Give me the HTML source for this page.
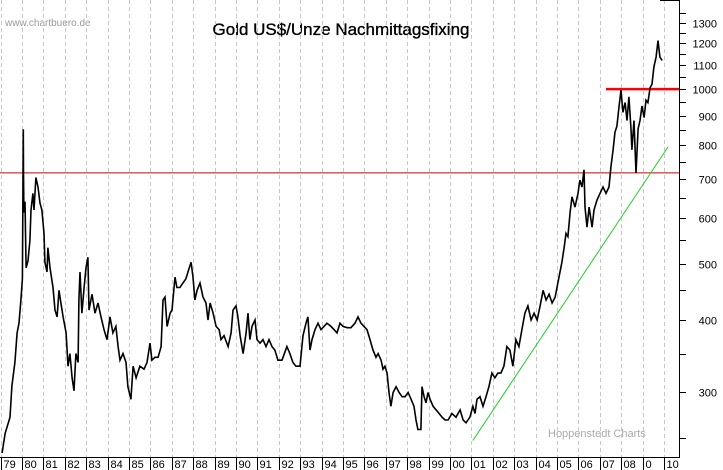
<!DOCTYPE html>
<html><head><meta charset="utf-8"><style>
html,body{margin:0;padding:0;background:#fff;}
svg{display:block;font-family:"Liberation Sans",Arial,sans-serif;}
</style></head><body>
<svg id="chart" width="723" height="470" viewBox="0 0 723 470">
<rect x="0" y="0" width="723" height="470" fill="#fff"/>
<text x="5" y="26" font-size="10" fill="#999">www.chartbuero.de</text>
<text x="341" y="35" font-size="17" text-anchor="middle" fill="#000" stroke="#000" stroke-width="0.35">Gold US$/Unze Nachmittagsfixing</text>
<text x="548" y="437" font-size="11" fill="#aaa">Hoppenstedt Charts</text>
<g id="grid"></g>
<g id="refs"></g>
<g id="series"></g>
<g id="axes"></g>
</svg>
<script>
const yearTicks = [1979,1980,1981,1982,1983,1984,1985,1986,1987,1988,1989,1990,1991,1992,1993,1994,1995,1996,1997,1998,1999,2000,2001,2002,2003,2004,2005,2006,2007,2008,2009,2010];
const yearLabels = ["79","80","81","82","83","84","85","86","87","88","89","90","91","92","93","94","95","96","97","98","99","00","01","02","03","04","05","06","07","08","0","10"];
const priceTicks = [300,400,500,600,700,800,900,1000,1100,1200,1300];
const minorTicks = [250,350,450,550,650,750,850,950,1050,1150,1250,1350];
const years = [1979.07,1979.21,1979.44,1979.53,1979.67,1979.77,1979.86,1979.95,1980.02,1980.06,1980.07,1980.09,1980.14,1980.19,1980.28,1980.37,1980.42,1980.51,1980.56,1980.65,1980.75,1980.84,1980.93,1981.03,1981.07,1981.17,1981.21,1981.31,1981.45,1981.54,1981.64,1981.73,1981.82,1981.92,1982.06,1982.15,1982.24,1982.34,1982.43,1982.52,1982.62,1982.66,1982.71,1982.80,1982.90,1982.99,1983.08,1983.13,1983.27,1983.41,1983.55,1983.69,1983.83,1983.97,1984.11,1984.25,1984.39,1984.49,1984.58,1984.72,1984.86,1984.95,1985.09,1985.19,1985.33,1985.51,1985.70,1985.84,1985.98,1986.07,1986.21,1986.36,1986.50,1986.59,1986.68,1986.78,1986.92,1987.01,1987.15,1987.24,1987.38,1987.52,1987.66,1987.80,1987.90,1987.99,1988.08,1988.18,1988.32,1988.46,1988.60,1988.69,1988.79,1988.93,1989.07,1989.21,1989.30,1989.44,1989.63,1989.77,1989.86,1990.00,1990.09,1990.19,1990.33,1990.47,1990.56,1990.65,1990.75,1990.89,1990.98,1991.12,1991.26,1991.40,1991.54,1991.68,1991.82,1991.96,1992.15,1992.38,1992.52,1992.66,1992.80,1992.99,1993.13,1993.27,1993.36,1993.46,1993.55,1993.69,1993.83,1993.97,1994.11,1994.25,1994.44,1994.58,1994.72,1994.86,1995.00,1995.19,1995.37,1995.56,1995.70,1995.84,1995.98,1996.12,1996.26,1996.40,1996.54,1996.64,1996.78,1996.87,1996.96,1997.06,1997.15,1997.24,1997.34,1997.48,1997.62,1997.76,1997.90,1998.04,1998.18,1998.32,1998.41,1998.50,1998.64,1998.69,1998.79,1998.88,1998.97,1999.07,1999.21,1999.35,1999.49,1999.63,1999.77,1999.91,2000.09,2000.28,2000.47,2000.61,2000.75,2000.93,2001.07,2001.17,2001.26,2001.40,2001.54,2001.68,2001.82,2001.96,2002.10,2002.24,2002.38,2002.52,2002.66,2002.80,2002.94,2003.08,2003.22,2003.36,2003.50,2003.64,2003.79,2003.93,2004.07,2004.21,2004.35,2004.49,2004.63,2004.77,2004.91,2005.00,2005.14,2005.23,2005.33,2005.42,2005.51,2005.61,2005.70,2005.84,2005.98,2006.07,2006.17,2006.26,2006.31,2006.40,2006.50,2006.64,2006.73,2006.87,2007.01,2007.15,2007.29,2007.43,2007.52,2007.62,2007.71,2007.80,2007.90,2007.99,2008.08,2008.18,2008.27,2008.36,2008.46,2008.50,2008.60,2008.69,2008.79,2008.88,2008.97,2009.07,2009.16,2009.25,2009.35,2009.44,2009.53,2009.63,2009.72,2009.81,2009.91];
const prices = [236,255,272,308,338,380,395,433,471,853,717,613,640,492,506,548,619,661,619,704,678,636,619,564,503,484,533,492,455,416,405,450,428,405,380,333,350,318,302,350,338,433,484,411,455,492,513,416,443,411,428,405,385,370,405,380,390,360,341,350,338,307,292,333,318,333,329,338,365,341,345,345,360,433,438,390,411,416,474,455,455,463,471,490,503,474,433,450,463,438,428,400,428,411,390,385,370,376,360,380,416,423,405,376,350,380,411,370,390,400,370,365,370,360,370,360,355,341,341,360,350,338,333,333,376,395,405,355,370,385,395,385,390,395,390,385,380,395,390,388,388,395,405,395,390,385,370,355,345,350,341,329,333,324,300,284,300,307,300,295,295,300,292,284,269,259,259,307,295,288,300,292,284,280,276,272,269,269,276,272,280,269,266,272,284,276,292,295,284,295,307,324,318,324,324,333,360,355,333,370,360,385,411,423,400,411,400,423,450,433,443,428,438,455,484,503,533,564,557,613,652,626,661,697,678,726,626,578,626,578,619,644,661,678,661,678,734,786,843,863,935,996,912,948,883,970,854,786,883,717,854,883,935,893,957,948,1006,1020,1092,1136,1212,1136,1120];
const resistanceLevels = [717, 1000];
const trendStart = [2001.07, 248];
const trendEnd = [2010.19, 795];
const resistanceStartYear = 2007.29;

const NS = "http://www.w3.org/2000/svg";
const PR = 679, AXY = 457;
function xOf(yr){ return 22 + (yr - 1980) * 21.4; }
function yOf(v){ return 320 - 252 * Math.log(v / 400); }
function mk(tag, attrs, parent){ const e = document.createElementNS(NS, tag); for (const k in attrs) e.setAttribute(k, attrs[k]); parent.appendChild(e); return e; }

const grid = document.getElementById('grid');
const axes = document.getElementById('axes');
yearTicks.forEach((yr, i) => {
  const x = Math.round(xOf(yr)) + 0.5;
  const gl = mk('line', {x1:x, x2:x, y1:0, y2:AXY, stroke:'#c8c8c8', 'stroke-width':1, 'stroke-dasharray':'4,3'}, grid);
  
  
  const tk = mk('line', {x1:x, x2:x, y1:AXY, y2:470, stroke:'#000', 'stroke-width':1}, axes);
  
  
  const t = mk('text', {x:x + 2, y:468, 'font-size':11, fill:'#000'}, axes);
  t.textContent = yearLabels[i];
  
  
});

const refs = document.getElementById('refs');
const h1 = mk('line', {x1:0, x2:PR, y1:yOf(resistanceLevels[0]), y2:yOf(resistanceLevels[0]), stroke:'#c00', 'stroke-width':1}, refs);


const h2 = mk('line', {x1:xOf(resistanceStartYear), x2:PR, y1:yOf(resistanceLevels[1]), y2:yOf(resistanceLevels[1]), stroke:'#f00', 'stroke-width':2.5}, refs);


const tr = mk('line', {x1:xOf(trendStart[0]), y1:yOf(trendStart[1]), x2:xOf(trendEnd[0]), y2:yOf(trendEnd[1]), stroke:'#2c2', 'stroke-width':1}, refs);



const series = document.getElementById('series');
let d = '';
years.forEach((yr, i) => { d += (i ? 'L' : 'M') + xOf(yr).toFixed(1) + ' ' + yOf(prices[i]).toFixed(1); });
const p = mk('path', {d:d, fill:'none', stroke:'#000', 'stroke-width':1.6, 'stroke-linejoin':'miter'}, series);



const ax = mk('line', {x1:PR + 0.5, x2:PR + 0.5, y1:0, y2:AXY, stroke:'#000', 'stroke-width':1}, axes);


const bx = mk('line', {x1:0, x2:PR + 1, y1:AXY + 0.5, y2:AXY + 0.5, stroke:'#000', 'stroke-width':1}, axes);


const tx = mk('line', {x1:660, x2:PR + 1, y1:0.5, y2:0.5, stroke:'#000', 'stroke-width':1}, axes);


priceTicks.forEach(v => {
  const y = Math.round(yOf(v)) + 0.5;
  const l = mk('line', {x1:PR, x2:PR + 7, y1:y, y2:y, stroke:'#000', 'stroke-width':1}, axes);
  
  
  const t = mk('text', {x:717, y:y + 4, 'font-size':11, 'text-anchor':'end', fill:'#000'}, axes);
  t.textContent = v;
  
  
});
minorTicks.forEach(v => {
  const y = Math.round(yOf(v)) + 0.5;
  if (y < 0 || y > AXY) return;
  const l = mk('line', {x1:PR, x2:PR + 7, y1:y, y2:y, stroke:'#000', 'stroke-width':1}, axes);
  
  
});
</script>
</body></html>
